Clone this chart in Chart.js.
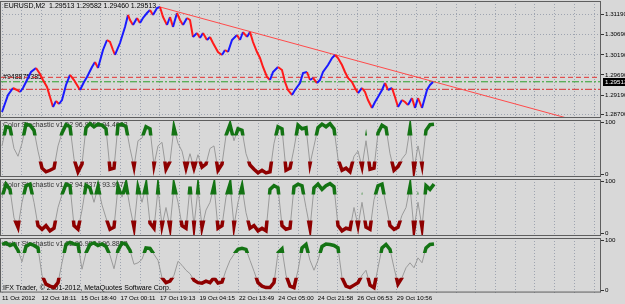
<!DOCTYPE html>
<html>
<head>
  <meta charset="utf-8">
  <title>EURUSD,M2 with Color Stochastic</title>
  <script src="https://cdn.jsdelivr.net/npm/chart.js"></script>
  <style>
    body { margin: 0; background: #d8d8d8; }
    #wrap { position: relative; width: 625px; height: 304px; overflow: hidden; background: #d8d8d8; }
    canvas { position: absolute; left: 0; }
  </style>
</head>
<body>
<div id="wrap">
  <canvas id="priceChart" width="625" height="119" style="top:0px"></canvas>
  <canvas id="stoch1" width="625" height="59" style="top:119px"></canvas>
  <canvas id="stoch2" width="625" height="59" style="top:178px"></canvas>
  <canvas id="stoch3" width="625" height="67" style="top:237px"></canvas>
</div>
<script>
  // --- data ---
  const symbol = "EURUSD,M2";
  const lastBar = [1.29513, 1.29582, 1.29460, 1.29513]; // open, high, low, close
  const timeLabels = ["11 Oct 2012", "12 Oct 18:11", "15 Oct 18:40", "17 Oct 00:11", "17 Oct 19:13",
    "19 Oct 04:15", "22 Oct 13:49", "24 Oct 05:00", "24 Oct 21:58", "26 Oct 06:53", "29 Oct 10:56"];
  const priceTicks = [1.31190, 1.30690, 1.30190, 1.29690, 1.29190, 1.28700];

  // bar position (time axis) and close price of the zigzag
  const priceBars = [1, 4, 6.5, 8.5, 10, 11.5, 13.5, 15.5, 18, 20,
    21.5, 23.5, 25, 26.5, 28, 29.5, 31, 33, 35, 37,
    38.5, 40, 42, 43.5, 46, 47.5, 49, 51.5, 53.5, 55,
    56.5, 57.5, 60, 62.5, 64, 65, 66.5, 68.5, 70, 71.5,
    73.5, 75, 76.5, 78.5, 80, 81.5, 83.5, 85, 86.5, 88.5,
    90, 91.5, 93.5, 95, 96.5, 98.5, 100, 101.5, 103.5, 105,
    106.5, 109, 111, 112.5, 114, 116, 118.5, 120, 121.5, 123.5,
    125, 126.5, 128.5, 130, 131.5, 133.5, 135, 136.5, 139, 141,
    142.5, 144, 146, 147.5, 150, 151.5, 153.5, 155, 156.5, 158.5,
    160, 161.5, 164, 166, 167.5, 169, 171, 172.5, 174, 176,
    177.5, 179, 181, 182.5, 184, 186, 187.5, 189, 191, 192.5,
    194, 196, 197.5, 199, 201, 202.5, 204, 206, 207.5, 209,
    211, 213.5, 215, 216.5];
  const priceValues = [1.28767, 1.29191, 1.29365, 1.29315, 1.29265, 1.29365, 1.29564, 1.29763, 1.29863, 1.29713,
    1.29564, 1.29390, 1.29141, 1.28892, 1.29041, 1.28966, 1.29066, 1.29440, 1.29689, 1.29564,
    1.29440, 1.29315, 1.29514, 1.29639, 1.29888, 1.30012, 1.29863, 1.30311, 1.30560, 1.30510,
    1.30311, 1.30187, 1.30485, 1.30884, 1.31183, 1.31058, 1.30934, 1.31108, 1.30983, 1.31108,
    1.31232, 1.31307, 1.31183, 1.31357, 1.31382, 1.31133, 1.30934, 1.31133, 1.30884, 1.31232,
    1.31058, 1.30934, 1.31108, 1.31058, 1.30635, 1.30734, 1.30610, 1.30734, 1.30560, 1.30635,
    1.30485, 1.30261, 1.30187, 1.30311, 1.30261, 1.30560, 1.30685, 1.30560, 1.30759, 1.30635,
    1.30759, 1.30510, 1.30261, 1.30112, 1.29888, 1.29639, 1.29564, 1.29763, 1.29888, 1.29813,
    1.29514, 1.29315, 1.29191, 1.29315, 1.29489, 1.29738, 1.29763, 1.29564, 1.29614, 1.29489,
    1.29564, 1.29763, 1.29938, 1.30112, 1.30187, 1.30112, 1.29938, 1.29763, 1.29614, 1.29514,
    1.29365, 1.29240, 1.29365, 1.29265, 1.29066, 1.28867, 1.29016, 1.29141, 1.29315, 1.29489,
    1.29315, 1.29365, 1.29141, 1.28892, 1.29066, 1.29016, 1.28942, 1.29116, 1.28867, 1.29116,
    1.28867, 1.29315, 1.29440, 1.29513];

  const trendBars = [80, 282.5];
  const trendPrices = [1.31382, 1.28630];
  const levelRedDash = 1.29631;
  const levelGreen = 1.29520;
  const levelRedDot = 1.29332;
  const objectName = "#948875385";

  // Color Stochastic, one value every 2 bars
  const stoch1 = [55, 92, 90, 50, 35, 60, 97, 95, 85, 45,
    12, 5, 8, 12, 55, 80, 96, 92, 30, 5,
    20, 90, 98, 92, 97, 95, 88, 10, 12, 95,
    97, 92, 50, 15, 65, 70, 92, 88, 18, 55,
    62, 10, 25, 90, 60, 45, 12, 40, 12, 38,
    14, 20, 50, 55, 8, 20, 75, 96, 65, 88,
    85, 40, 18, 10, 3, 8, 3, 5, 60, 92,
    88, 8, 12, 50, 95, 88, 90, 20, 55, 90,
    97, 92, 98, 88, 30, 8, 12, 5, 35, 45,
    15, 65, 10, 12, 80, 95, 90, 40, 8, 15,
    30, 40, 88, 10, 55, 18, 85, 96, 97];
  const stoch2 = [70, 95, 85, 30, 12, 60, 92, 95, 60, 15,
    8, 15, 5, 10, 50, 75, 95, 92, 15, 8,
    45, 93, 88, 60, 90, 55, 30, 8, 12, 90,
    70, 95, 50, 12, 88, 60, 92, 20, 10, 85,
    15, 50, 12, 92, 60, 15, 10, 90, 15, 85,
    12, 45, 60, 92, 10, 15, 70, 95, 15, 60,
    90, 40, 10, 15, 5, 10, 5, 85, 92, 88,
    15, 8, 10, 90, 95, 92, 50, 10, 88, 95,
    85, 92, 96, 90, 15, 5, 10, 8, 50, 15,
    60, 12, 8, 65, 92, 95, 55, 15, 8, 12,
    35, 50, 90, 8, 60, 12, 92, 85, 95];
  const stoch3 = [92, 95, 90, 93, 80, 57, 88, 93, 90, 85,
    30, 12, 8, 5, 15, 55, 92, 96, 93, 92,
    42, 75, 92, 95, 90, 93, 88, 70, 43, 80,
    95, 93, 80, 52, 55, 62, 85, 84, 72, 60,
    25, 15, 18, 30, 58, 50, 40, 33, 20, 15,
    14, 18, 15, 25, 14, 16, 40, 60, 72, 82,
    84, 82, 60, 38, 15, 8, 5, 5, 15, 75,
    83, 30, 8, 5, 40, 85, 92, 60, 40, 60,
    88, 93, 92, 90, 85, 25, 8, 5, 10, 15,
    30, 40, 10, 5, 45, 85, 92, 82, 45, 12,
    25, 45, 55, 45, 65, 55, 85, 92, 93];
  const stochNames = ["Color Stochastic v1.02 96.9456 94.4663",
    "Color Stochastic v1.02 94.2375 93.9573",
    "Color Stochastic v1.02 96.9844 96.8858"];
  const overbought = 75;
  const oversold = 25;
  const copyright = "IFX Trader, \u00a9 2001-2012, MetaQuotes Software Corp.";

  // --- shared look ---
  const FONT = "'Liberation Sans', Arial, sans-serif";
  const BAR_MAX = 300.5;
  const GRID_STEP = 9.87;
  const GRID_COLOR = '#9ea4b0';

  const frame = {
    id: 'frame',
    afterDatasetsDraw(chart) {
      const a = chart.chartArea, ctx = chart.ctx;
      ctx.save();
      ctx.strokeStyle = '#5e5e5e';
      ctx.lineWidth = 1;
      ctx.strokeRect(a.left + 0.5, a.top + 0.5, a.right - a.left - 1, a.bottom - a.top - 1);
      ctx.restore();
    }
  };

  const notes = {
    id: 'notes',
    beforeDatasetsDraw(chart, args, opts) {
      const ctx = chart.ctx;
      ctx.save();
      ctx.font = '7px ' + FONT;
      ctx.textBaseline = 'middle';
      (opts.items || []).forEach(n => {
        ctx.fillStyle = n.color || '#000';
        ctx.fillText(n.text, n.x, n.y);
      });
      ctx.restore();
    }
  };

  // thick coloured parts of the stochastic only above/below the levels
  const zoneClip = {
    id: 'zoneClip',
    beforeDatasetDraw(chart, args) {
      const zone = chart.data.datasets[args.index].zone;
      if (!zone) return;
      const a = chart.chartArea, y = chart.scales.y, ctx = chart.ctx;
      ctx.save();
      ctx.beginPath();
      if (zone === 'high') {
        const p = y.getPixelForValue(overbought);
        ctx.rect(a.left, a.top - 5, a.right - a.left, p - a.top + 5);
      } else {
        const p = y.getPixelForValue(oversold);
        ctx.rect(a.left, p, a.right - a.left, a.bottom - p + 5);
      }
      ctx.clip();
    },
    afterDatasetDraw(chart, args) {
      if (chart.data.datasets[args.index].zone) chart.ctx.restore();
    }
  };

  const priceTag = {
    id: 'priceTag',
    afterDraw(chart) {
      const ctx = chart.ctx, a = chart.chartArea;
      const y = chart.scales.y.getPixelForValue(lastBar[3]);
      ctx.save();
      ctx.fillStyle = '#000';
      ctx.fillRect(a.right + 2, Math.round(y) - 4, 30, 8);
      ctx.fillStyle = '#fff';
      ctx.font = '6.2px ' + FONT;
      ctx.textBaseline = 'middle';
      ctx.fillText(lastBar[3].toFixed(5), a.right + 4, y);
      ctx.restore();
    }
  };

  function xAxis(showLabels) {
    return {
      type: 'linear', min: 0, max: BAR_MAX,
      afterBuildTicks(s) {
        const t = [];
        for (let v = 1; v <= BAR_MAX; v += GRID_STEP) t.push({ value: v });
        s.ticks = t;
      },
      afterFit(s) { s.paddingLeft = 0; s.paddingRight = 0; },
      grid: { color: GRID_COLOR, lineWidth: 1, drawTicks: false },
      border: { display: false, dash: [1, 2] },
      ticks: {
        display: showLabels, autoSkip: false, maxRotation: 0, minRotation: 0,
        align: 'start', padding: 2, color: '#000',
        font: { family: FONT, size: 6.2 },
        callback: (v, i) => i % 2 === 0 ? (timeLabels[i / 2] || '') : ''
      }
    };
  }

  const common = {
    responsive: false,
    animation: false,
    devicePixelRatio: 1,
    layout: { autoPadding: false, padding: { top: 1, bottom: 1, left: 0, right: 0 } },
    elements: { point: { radius: 0 }, line: { tension: 0 } }
  };

  // --- main price window ---
  new Chart(document.getElementById('priceChart'), {
    type: 'line',
    data: {
      datasets: [
        {
          data: priceBars.map((b, i) => ({ x: b, y: priceValues[i] })),
          borderWidth: 2, borderColor: '#1a1aff',
          segment: { borderColor: c => c.p1.parsed.y >= c.p0.parsed.y ? '#1a1aff' : '#ff1a1a' }
        },
        {
          data: trendBars.map((b, i) => ({ x: b, y: trendPrices[i] })),
          borderWidth: 1, borderColor: '#ff4a4a'
        },
        {
          data: [{ x: 0, y: levelRedDash }, { x: BAR_MAX, y: levelRedDash }],
          borderWidth: 1, borderColor: '#e23434', borderDash: [5, 3]
        },
        {
          data: [{ x: 0, y: levelGreen }, { x: BAR_MAX, y: levelGreen }],
          borderWidth: 1, borderColor: '#2ba02b', borderDash: [7, 2, 2, 2]
        },
        {
          data: [{ x: 0, y: levelRedDot }, { x: BAR_MAX, y: levelRedDot }],
          borderWidth: 1, borderColor: '#d83030', borderDash: [7, 2, 2, 2]
        }
      ]
    },
    options: Object.assign({}, common, {
      plugins: {
        legend: { display: false }, tooltip: { enabled: false },
        notes: { items: [
          { text: symbol + "  " + lastBar.map(v => v.toFixed(5)).join(' '), x: 4, y: 6 },
          { text: objectName, x: 3, y: 77 }
        ] }
      },
      scales: {
        x: xAxis(false),
        y: {
          position: 'right', min: 1.28618, max: 1.31531,
          afterBuildTicks(s) { s.ticks = priceTicks.map(v => ({ value: v })); },
          afterFit(s) { s.width = 24; s.paddingTop = 0; s.paddingBottom = 0; },
          grid: { color: GRID_COLOR, drawTicks: true, tickLength: 3, tickColor: '#333', tickBorderDash: [] },
          border: { display: false, dash: [1, 2] },
          ticks: { padding: 1, color: '#000', font: { family: FONT, size: 6.2 }, callback: v => v.toFixed(5) }
        }
      }
    }),
    plugins: [notes, frame, priceTag]
  });

  // --- indicator windows ---
  function stochChart(id, values, extraNotes, isLast) {
    const pts = values.map((v, i) => ({ x: 1 + 2 * i, y: v }));
    new Chart(document.getElementById(id), {
      type: 'line',
      data: {
        datasets: [
          { data: pts, borderColor: '#137313', borderWidth: 3.5, zone: 'high' },
          { data: pts, borderColor: '#8e0000', borderWidth: 3.5, zone: 'low' },
          { data: pts, borderColor: '#9a9a9a', borderWidth: 1 }
        ]
      },
      options: Object.assign({}, common, {
        layout: { autoPadding: false, padding: { top: 1, bottom: isLast ? 0 : 1, left: 0, right: 0 } },
        plugins: {
          legend: { display: false }, tooltip: { enabled: false },
          notes: { items: extraNotes }
        },
        scales: {
          x: xAxis(isLast),
          y: {
            position: 'right', min: -5, max: 105,
            afterBuildTicks(s) { s.ticks = [{ value: 0 }, { value: 100 }]; },
            afterFit(s) { s.width = 24; s.paddingTop = 0; s.paddingBottom = 0; },
            grid: { drawOnChartArea: false, drawTicks: true, tickLength: 3, tickColor: '#333' },
            border: { display: false },
            ticks: { padding: 1, color: '#000', font: { family: FONT, size: 6.2 } }
          }
        }
      }),
      plugins: [notes, zoneClip, frame]
    });
  }

  stochChart('stoch1', stoch1, [{ text: stochNames[0], x: 3, y: 6, color: '#333' }], false);
  stochChart('stoch2', stoch2, [{ text: stochNames[1], x: 3, y: 7, color: '#333' }], false);
  stochChart('stoch3', stoch3, [
    { text: stochNames[2], x: 3, y: 7, color: '#333' },
    { text: copyright, x: 3, y: 51 }
  ], true);
</script>
</body>
</html>
